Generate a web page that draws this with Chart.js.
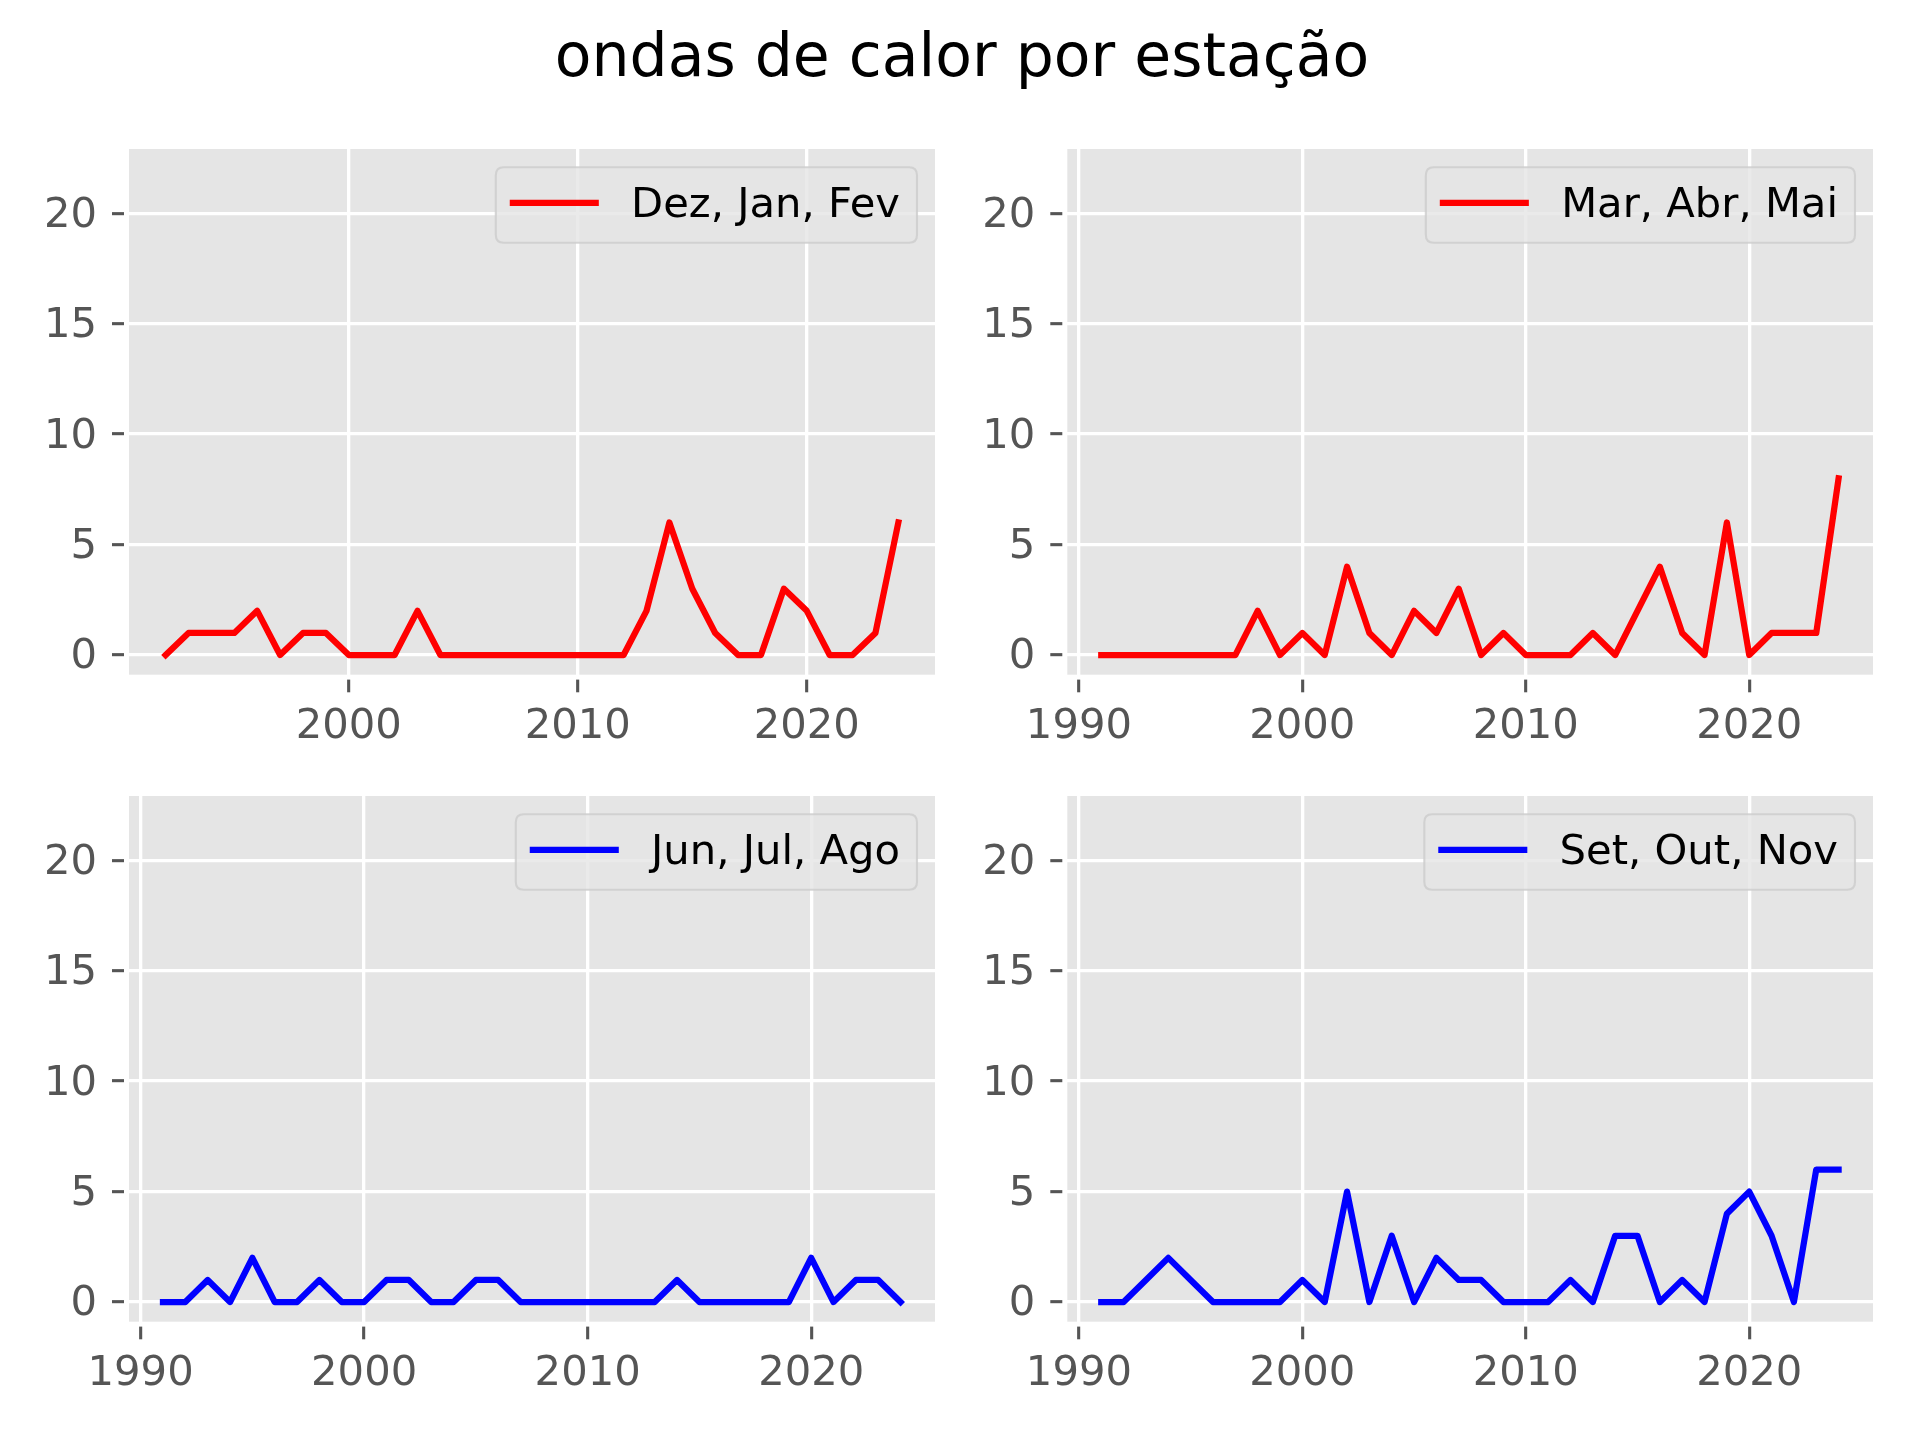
<!DOCTYPE html>
<html>
<head>
<meta charset="utf-8">
<script src="https://cdn.jsdelivr.net/npm/chart.js@4.4.1/dist/chart.umd.min.js"></script>
<style>
  html, body { margin: 0; padding: 0; background: #ffffff; }
  #wrap { position: relative; width: 1920px; height: 1440px; overflow: hidden; background: #fff; }
  canvas { position: absolute; }
  #title { position: absolute; top: 25px; left: 962px; transform: translateX(-50%);
           font-family: "DejaVu Sans", sans-serif; font-size: 60px; line-height: 60px;
           color: #000; white-space: nowrap; }
</style>
</head>
<body>
<div id="wrap">
  <div id="title">ondas de calor por estação</div>
  <canvas id="c1" width="960" height="740" style="left:0px;top:0px;width:960px;height:740px"></canvas>
  <canvas id="c2" width="960" height="740" style="left:960px;top:0px;width:960px;height:740px"></canvas>
  <canvas id="c3" width="960" height="700" style="left:0px;top:740px;width:960px;height:700px"></canvas>
  <canvas id="c4" width="960" height="700" style="left:960px;top:740px;width:960px;height:700px"></canvas>
</div>
<script>
// ---------------- data ----------------
const yearsDJF = [1992,1993,1994,1995,1996,1997,1998,1999,2000,2001,2002,2003,2004,2005,2006,2007,2008,2009,2010,2011,2012,2013,2014,2015,2016,2017,2018,2019,2020,2021,2022,2023,2024];
const valuesDJF = [0,1,1,1,2,0,1,1,0,0,0,2,0,0,0,0,0,0,0,0,0,2,6,3,1,0,0,3,2,0,0,1,6];

const years = [1991,1992,1993,1994,1995,1996,1997,1998,1999,2000,2001,2002,2003,2004,2005,2006,2007,2008,2009,2010,2011,2012,2013,2014,2015,2016,2017,2018,2019,2020,2021,2022,2023,2024];
const valuesMAM = [0,0,0,0,0,0,0,2,0,1,0,4,1,0,2,1,3,0,1,0,0,0,1,0,2,4,1,0,6,0,1,1,1,8];
const valuesJJA = [0,0,1,0,2,0,0,1,0,0,1,1,0,0,1,1,0,0,0,0,0,0,0,1,0,0,0,0,0,2,0,1,1,0];
const valuesSON = [0,0,1,2,1,0,0,0,0,1,0,5,0,3,0,2,1,1,0,0,0,1,0,3,3,0,1,0,4,5,3,0,6,6];

const labelDJF = "Dez, Jan, Fev";
const labelMAM = "Mar, Abr, Mai";
const labelJJA = "Jun, Jul, Ago";
const labelSON = "Set, Out, Nov";

const xTicks = [1990, 2000, 2010, 2020];
const yTicks = [0, 5, 10, 15, 20];
const titleText = "ondas de calor por estação";

// ---------------- style ----------------
const FONT = "DejaVu Sans";
const TICK_PX = 41.7;
const BG = "#E5E5E5";

const bgPlugin = {
  id: 'plotBg',
  beforeDraw(chart) {
    const a = chart.chartArea, ctx = chart.ctx;
    ctx.save();
    ctx.fillStyle = BG;
    ctx.fillRect(a.left, a.top, a.right - a.left, a.bottom - a.top);
    ctx.restore();
  }
};

const legendPlugin = {
  id: 'innerLegend',
  afterDatasetsDraw(chart) {
    const ds = chart.data.datasets[0];
    const a = chart.chartArea, ctx = chart.ctx;
    ctx.save();
    ctx.font = TICK_PX + "px '" + FONT + "'";
    const tw = ctx.measureText(ds.label).width;
    const padL = 14, handle = 89, gap = 32.3, padR = 17;
    const w = padL + handle + gap + tw + padR;
    const h = 75.4;
    const x = a.right - 18 - w;
    const y = a.top + 18.3;
    const r = 8;
    ctx.beginPath();
    ctx.moveTo(x + r, y);
    ctx.lineTo(x + w - r, y);
    ctx.quadraticCurveTo(x + w, y, x + w, y + r);
    ctx.lineTo(x + w, y + h - r);
    ctx.quadraticCurveTo(x + w, y + h, x + w - r, y + h);
    ctx.lineTo(x + r, y + h);
    ctx.quadraticCurveTo(x, y + h, x, y + h - r);
    ctx.lineTo(x, y + r);
    ctx.quadraticCurveTo(x, y, x + r, y);
    ctx.closePath();
    ctx.fillStyle = "rgba(229,229,229,0.8)";
    ctx.fill();
    ctx.lineWidth = 2.1;
    ctx.strokeStyle = "rgba(204,204,204,0.8)";
    ctx.stroke();
    const cy = y + 35.6;
    ctx.beginPath();
    ctx.moveTo(x + padL + 3.1, cy);
    ctx.lineTo(x + padL + handle - 3.1, cy);
    ctx.lineCap = 'square';
    ctx.lineWidth = 6.25;
    ctx.strokeStyle = ds.borderColor;
    ctx.stroke();
    ctx.fillStyle = "#000000";
    ctx.textBaseline = "middle";
    ctx.textAlign = "left";
    ctx.fillText(ds.label, x + padL + handle + gap, cy + 3);
    ctx.restore();
  }
};

function makeChart(id, xs, ys, label, color, cfg) {
  const pts = xs.map((x, i) => ({ x: x, y: ys[i] }));
  return new Chart(document.getElementById(id), {
    type: 'line',
    data: {
      datasets: [{
        label: label,
        data: pts,
        borderColor: color,
        backgroundColor: color,
        borderWidth: 6.25,
        pointRadius: 0,
        pointHoverRadius: 0,
        tension: 0,
        borderCapStyle: 'square',
        borderJoinStyle: 'round',
        fill: false
      }]
    },
    options: {
      responsive: false,
      maintainAspectRatio: false,
      devicePixelRatio: 1,
      animation: false,
      events: [],
      layout: { padding: { top: cfg.padTop, right: cfg.padRight, left: 0, bottom: 0 } },
      plugins: { legend: { display: false }, tooltip: { enabled: false }, title: { display: false } },
      scales: {
        x: {
          type: 'linear',
          position: 'bottom',
          min: cfg.xmin,
          max: cfg.xmax,
          border: { display: false },
          grid: {
            color: '#FFFFFF', lineWidth: 3.33,
            drawTicks: true, tickLength: 17.6, tickColor: '#555555', tickWidth: 3.1,
            tickBorderDash: [13, 4.6], tickBorderDashOffset: 13
          },
          ticks: {
            color: '#555555', font: { family: FONT, size: TICK_PX },
            padding: 9.6, autoSkip: false, maxRotation: 0, minRotation: 0,
            callback: (v) => String(v)
          },
          afterBuildTicks: (s) => { s.ticks = xTicks.filter(v => v >= s.min && v <= s.max).map(v => ({ value: v })); },
          afterFit: (s) => { s.height = cfg.xH; }
        },
        y: {
          type: 'linear',
          position: 'left',
          min: -0.89,
          max: 22.91,
          border: { display: false },
          grid: {
            color: '#FFFFFF', lineWidth: 3.33,
            drawTicks: true, tickLength: 17, tickColor: '#555555', tickWidth: 3.1,
            tickBorderDash: [12, 5], tickBorderDashOffset: 0
          },
          ticks: {
            color: '#555555', font: { family: FONT, size: TICK_PX },
            padding: 15, autoSkip: false, labelOffset: 2.6,
            callback: (v) => String(v)
          },
          afterBuildTicks: (s) => { s.ticks = yTicks.map(v => ({ value: v })); },
          afterFit: (s) => { s.width = cfg.yW; }
        }
      }
    },
    plugins: [bgPlugin, legendPlugin]
  });
}

document.getElementById('title').textContent = titleText;

makeChart('c1', yearsDJF, valuesDJF, labelDJF, '#FF0000',
  { padTop: 149, padRight: 25, yW: 129, xH: 65.3, xmin: 1990.4, xmax: 2025.6 });
makeChart('c2', years, valuesMAM, labelMAM, '#FF0000',
  { padTop: 149, padRight: 47, yW: 107.3, xH: 65.3, xmin: 1989.48, xmax: 2025.54 });
makeChart('c3', years, valuesJJA, labelJJA, '#0000FF',
  { padTop: 56, padRight: 25, yW: 129, xH: 118.3, xmin: 1989.48, xmax: 2025.54 });
makeChart('c4', years, valuesSON, labelSON, '#0000FF',
  { padTop: 56, padRight: 47, yW: 107.3, xH: 118.3, xmin: 1989.48, xmax: 2025.54 });
</script>
</body>
</html>
